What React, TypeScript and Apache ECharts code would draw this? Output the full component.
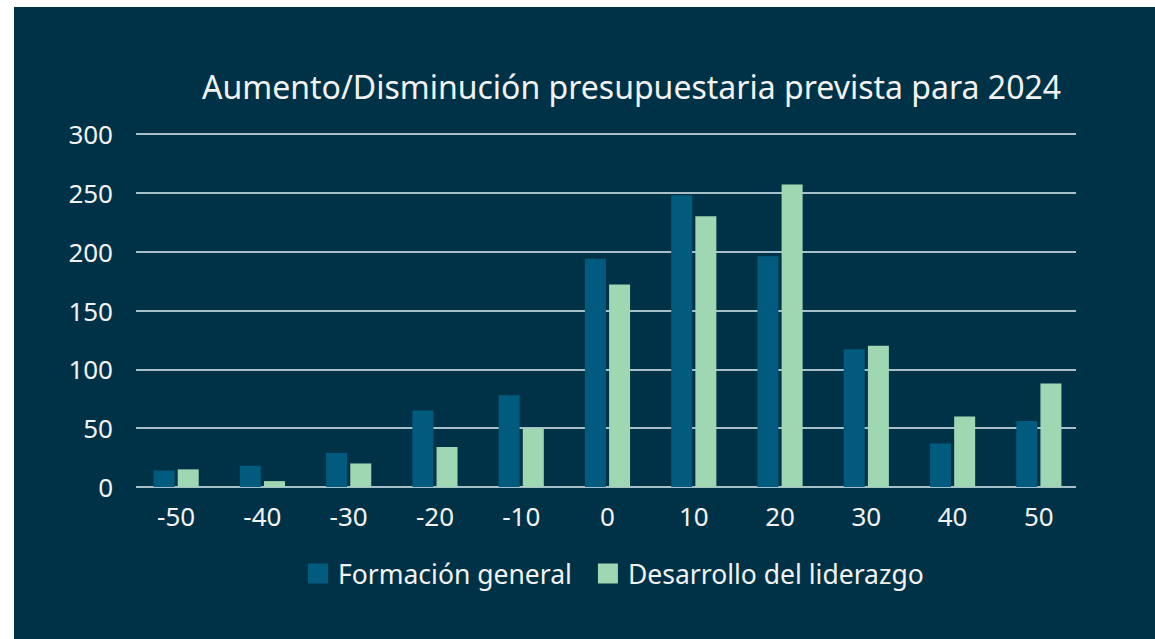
import React, { useEffect, useRef } from "react";
import * as echarts from "echarts";

const categories = ["-50", "-40", "-30", "-20", "-10", "0", "10", "20", "30", "40", "50"];
const formacionGeneral = [14, 18, 29, 65, 78, 194, 248, 196, 117, 37, 56];
const desarrolloLiderazgo = [15, 5, 20, 34, 50, 172, 230, 257, 120, 60, 88];
const seriesNames = ["Formación general", "Desarrollo del liderazgo"];
const titleText = "Aumento/Disminución presupuestaria prevista para 2024";
const yMin = 0;
const yMax = 300;
const yStep = 50;

const BG = "#003247";
const BLUE = "#005b7e";
const GREEN = "#9fd7b2";
const GRID = "#a6bfc9";
const TEXT = "#f2f2f2";
const FONT = "'Noto Sans', 'Open Sans', sans-serif";

export default function App() {
  const ref = useRef<HTMLDivElement>(null);
  useEffect(() => {
    if (!ref.current) return;
    const chart = echarts.init(ref.current, null, { renderer: "svg" });
    chart.setOption({
      animation: false,
      backgroundColor: BG,
      textStyle: { fontFamily: FONT },
      title: {
        text: titleText,
        left: 188,
        top: 63,
        padding: 0,
        textStyle: { color: TEXT, fontSize: 32, fontWeight: "normal", fontFamily: FONT },
      },
      legend: {
        data: seriesNames,
        left: 294,
        top: 553,
        padding: 0,
        itemWidth: 20,
        itemHeight: 20,
        itemGap: 26,
        icon: "rect",
        textStyle: { color: TEXT, fontSize: 26.5, fontFamily: FONT, padding: [0, 0, 0, 5] },
      },
      grid: [
        { left: 122, right: 79, top: 127, bottom: 152, containLabel: false },
        { left: 119, right: 73, top: 127, bottom: 152, containLabel: false },
      ],
      xAxis: [
        {
          type: "category",
          gridIndex: 0,
          data: categories,
          show: false,
        },
        {
          type: "category",
          gridIndex: 1,
          data: categories,
          axisLine: { show: false },
          axisTick: { show: false },
          axisLabel: { color: TEXT, fontSize: 26, margin: 16, fontFamily: FONT },
        },
      ],
      yAxis: [
        {
          type: "value",
          gridIndex: 0,
          min: yMin,
          max: yMax,
          interval: yStep,
          axisLine: { show: false },
          axisTick: { show: false },
          splitLine: { lineStyle: { color: GRID, width: 2 } },
          axisLabel: { color: TEXT, fontSize: 26, margin: 23, fontFamily: FONT },
        },
        {
          type: "value",
          gridIndex: 1,
          min: yMin,
          max: yMax,
          interval: yStep,
          show: false,
          splitLine: { show: false },
        },
      ],
      series: [
        {
          name: seriesNames[0],
          type: "bar",
          xAxisIndex: 1,
          yAxisIndex: 1,
          data: formacionGeneral,
          barWidth: 21,
          barGap: "15%",
          itemStyle: { color: BLUE },
        },
        {
          name: seriesNames[1],
          type: "bar",
          xAxisIndex: 1,
          yAxisIndex: 1,
          data: desarrolloLiderazgo,
          barWidth: 21,
          itemStyle: { color: GREEN },
        },
      ],
    });
    return () => chart.dispose();
  }, []);
  return (
    <div
      ref={ref}
      style={{ position: "absolute", left: 14, top: 7, width: 1141, height: 632 }}
    />
  );
}
